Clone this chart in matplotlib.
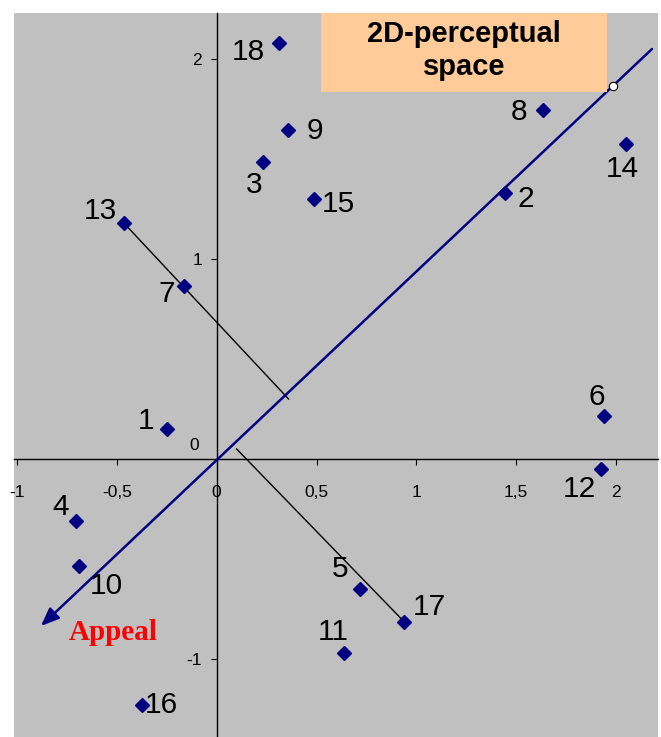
import matplotlib
matplotlib.use("Agg")
import matplotlib.pyplot as plt
from matplotlib.patches import Rectangle

# ---- data ----
labels = ["1", "2", "3", "4", "5", "6", "7", "8", "9", "10",
          "11", "12", "13", "14", "15", "16", "17", "18"]
x_vals = [-0.25, 1.445, 0.23, -0.705, 0.72, 1.94, -0.165, 1.635, 0.355, -0.69,
          0.64, 1.925, -0.465, 2.05, 0.485, -0.375, 0.94, 0.31]
y_vals = [0.15, 1.33, 1.485, -0.31, -0.65, 0.215, 0.865, 1.745, 1.645, -0.535,
          -0.97, -0.05, 1.18, 1.575, 1.30, -1.23, -0.815, 2.08]

# Appeal axis (start -> arrow tip) and marked point on it
appeal_start = (2.18, 2.05)
appeal_end = (-0.88, -0.835)
appeal_mark = (1.985, 1.865)

# projection lines (from point to axis)
proj_x = [[-0.465, 0.36], [0.94, 0.10]]
proj_y = [[1.18, 0.30], [-0.815, 0.05]]

x_ticks = [-1, -0.5, 0, 0.5, 1, 1.5, 2]
x_tick_labels = ["-1", "-0,5", "0", "0,5", "1", "1,5", "2"]
y_ticks = [-1, 1, 2]
y_tick_labels = ["-1", "1", "2"]

title_text = "2D-perceptual\nspace"
axis_name = "Appeal"

# label offsets in pixels (dx, dy) -- layout only
label_offsets = {
    "1": (-21, 8), "2": (21, -6), "3": (-8, -23), "4": (-15, 14),
    "5": (-20, 20), "6": (-7, 19), "7": (-17, -8), "8": (-24, -2),
    "9": (27, -1), "10": (27, -20), "11": (-11, 21), "12": (-22, -20),
    "13": (-23, 12), "14": (-4, -25), "15": (25, -5), "16": (20, 0),
    "17": (25, 15), "18": (-30, -9),
}

fig = plt.figure(figsize=(6.61, 7.37), dpi=100)
ax = fig.add_axes([14 / 661, 0.0, 644 / 661, 724 / 737])
ax.set_facecolor("#C0C0C0")
ax.set_xlim(-1.015, 2.21)
ax.set_ylim(-1.39, 2.23)

for s in ["top", "right"]:
    ax.spines[s].set_visible(False)
ax.spines["left"].set_position(("data", 0))
ax.spines["bottom"].set_position(("data", 0))
for s in ["left", "bottom"]:
    ax.spines[s].set_linewidth(1.0)
    ax.spines[s].set_color("black")

ax.set_xticks(x_ticks)
ax.set_xticklabels(x_tick_labels)
ax.set_yticks(y_ticks)
ax.set_yticklabels(y_tick_labels)
ax.tick_params(axis="x", direction="out", length=4.5, width=0.8, pad=14,
               labelsize=12.5)
ax.tick_params(axis="y", direction="out", length=4.5, width=0.8, pad=6,
               labelsize=12.5)
for t in ax.get_xticklabels() + ax.get_yticklabels():
    t.set_fontfamily("Liberation Sans")
# the y "0" label sits left of the axis, just above the x axis
ax.annotate("0", xy=(0, 0), xytext=(-22, 13), textcoords="offset pixels",
            ha="center", va="center", fontsize=12.5, family="Liberation Sans")

# projection lines
for px, py in zip(proj_x, proj_y):
    ax.plot(px, py, color="black", lw=1.0, zorder=2)

# appeal axis with arrow
ax.annotate("", xy=appeal_end, xytext=appeal_start,
            arrowprops=dict(arrowstyle="-|>,head_length=1.1,head_width=0.45",
                            color="#000080", lw=1.8, shrinkA=0, shrinkB=0),
            zorder=3)
ax.plot([appeal_mark[0]], [appeal_mark[1]], marker="o", ms=6,
        mfc="white", mec="#000000", mew=0.8, zorder=5)

# points
ax.plot(x_vals, y_vals, ls="none", marker="D", ms=7, color="#000080",
        zorder=4)
for lab, xv, yv in zip(labels, x_vals, y_vals):
    dx, dy = label_offsets[lab]
    ax.annotate(lab, xy=(xv, yv), xytext=(dx, dy), textcoords="offset pixels",
                ha="center", va="center", fontsize=21.5,
                family="Liberation Sans", color="black", zorder=6)

# title box
ax.add_patch(Rectangle((0.477, 0.891), 0.444, 0.109, transform=ax.transAxes,
                       facecolor="#FFCC99", edgecolor="none", zorder=5))
ax.text(0.699, 0.948, title_text, transform=ax.transAxes, ha="center",
        va="center", fontsize=21, fontweight="bold", family="Liberation Sans",
        linespacing=1.2, zorder=6)

ax.text(0.154, 0.145, axis_name, transform=ax.transAxes, ha="center",
        va="center", fontsize=21, fontweight="bold", family="Liberation Serif",
        color="#FF0000", zorder=6)

fig.savefig("out.png", dpi=100)
